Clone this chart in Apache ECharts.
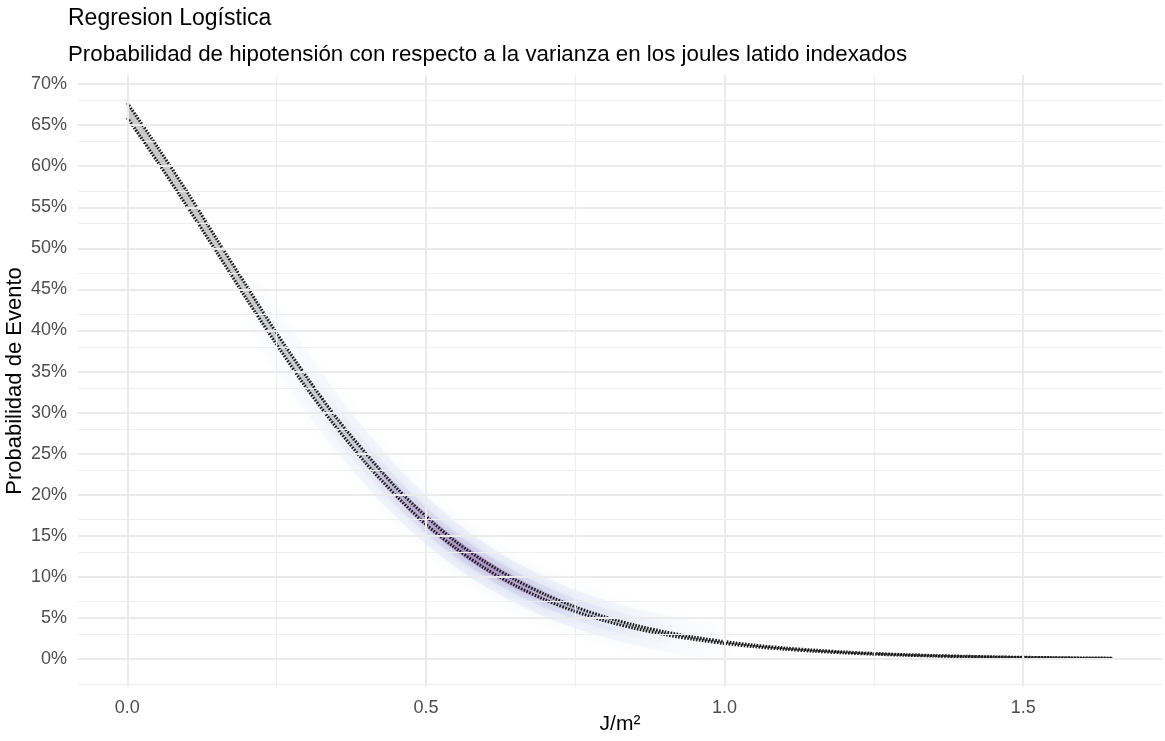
<!DOCTYPE html>
<html>
<head>
<meta charset="utf-8">
<script src="https://cdn.jsdelivr.net/npm/echarts@6/dist/echarts.min.js"></script>
<style>
  html, body { margin: 0; padding: 0; background: #fff; }
  #chart { width: 1165px; height: 741px; }
</style>
</head>
<body>
<div id="chart"></div>
<script>
// J/m2 values along the fitted curve
const xs = [0, 0.05, 0.1, 0.15, 0.2, 0.25, 0.3, 0.35, 0.4, 0.45, 0.5, 0.55, 0.6, 0.65, 0.7, 0.75, 0.8,
  0.85, 0.9, 0.95, 1.0, 1.05, 1.1, 1.15, 1.2, 1.25, 1.3, 1.35, 1.4, 1.45, 1.5, 1.55, 1.6, 1.65]
// predicted probability
const fit = [0.668, 0.615, 0.560, 0.503, 0.446, 0.390, 0.337, 0.288, 0.244, 0.204, 0.169, 0.139, 0.114,
  0.093, 0.0754, 0.0609, 0.049, 0.0394, 0.0316, 0.0253, 0.0202, 0.0161, 0.0129, 0.0103, 0.0082, 0.0065,
  0.0052, 0.0041, 0.0033, 0.0026, 0.0021, 0.0017, 0.0013, 0.0011]
const upper = [0.677, 0.624, 0.569, 0.511, 0.454, 0.397, 0.344, 0.294, 0.250, 0.209, 0.174, 0.143, 0.118,
  0.0966, 0.0786, 0.0637, 0.0514, 0.0414, 0.0333, 0.0267, 0.0214, 0.0171, 0.0137, 0.011, 0.0088, 0.007,
  0.0056, 0.0044, 0.0036, 0.0028, 0.0023, 0.0018, 0.0014, 0.0012]
const lower = [0.659, 0.606, 0.551, 0.495, 0.438, 0.383, 0.330, 0.282, 0.238, 0.199, 0.164, 0.135, 0.110,
  0.0894, 0.0722, 0.0581, 0.0466, 0.0374, 0.0299, 0.0239, 0.019, 0.0151, 0.0121, 0.0096, 0.0076, 0.006,
  0.0048, 0.0038, 0.003, 0.0024, 0.0019, 0.0016, 0.0012, 0.001]

const xMajor = [0, 0.5, 1.0, 1.5]
const xMinor = [0.25, 0.75, 1.25]
const yMajor = [0, 0.05, 0.1, 0.15, 0.2, 0.25, 0.3, 0.35, 0.4, 0.45, 0.5, 0.55, 0.6, 0.65, 0.7]
const yMinor = [-0.025, 0.025, 0.075, 0.125, 0.175, 0.225, 0.275, 0.325, 0.375, 0.425, 0.475, 0.525,
  0.575, 0.625, 0.675]

const font = 'Liberation Sans, Arial, sans-serif'
const pairs = (ys) => xs.map((x, i) => [x, ys[i]])
const glowPart = (from, to) => pairs(fit).filter(p => p[0] >= from - 1e-9 && p[0] <= to + 1e-9)

const fade = (r, g, b, a) => ({
  type: 'linear', x: 0, y: 0, x2: 1, y2: 0,
  colorStops: [
    { offset: 0, color: `rgba(${r},${g},${b},0)` },
    { offset: 0.45, color: `rgba(${r},${g},${b},${a})` },
    { offset: 0.6, color: `rgba(${r},${g},${b},${a})` },
    { offset: 1, color: `rgba(${r},${g},${b},0)` }
  ]
})

const gridLines = [
  ...xMajor.map(v => ({ xAxis: v, lineStyle: { color: '#ebebeb', width: 2, type: 'solid' } })),
  ...xMinor.map(v => ({ xAxis: v, lineStyle: { color: '#efefef', width: 1.2, type: 'solid' } })),
  ...yMajor.map(v => ({ yAxis: v, lineStyle: { color: '#ebebeb', width: 2, type: 'solid' } })),
  ...yMinor.map(v => ({ yAxis: v, lineStyle: { color: '#efefef', width: 1.2, type: 'solid' } }))
]

const chart = echarts.init(document.getElementById('chart'))
chart.setOption({
  animation: false,
  backgroundColor: '#fff',
  textStyle: { fontFamily: font },
  title: {
    text: 'Regresion Logística',
    subtext: 'Probabilidad de hipotensión con respecto a la varianza en los joules latido indexados',
    left: 63,
    top: 2,
    itemGap: 14,
    textStyle: { fontSize: 23, fontWeight: 'normal', color: '#000', fontFamily: font },
    subtextStyle: { fontSize: 22.3, color: '#000', fontFamily: font }
  },
  grid: { left: 78, right: 3, top: 75, bottom: 54, outerBoundsMode: 'none', containLabel: false },
  xAxis: {
    type: 'value',
    min: -0.0825,
    max: 1.7325,
    name: 'J/m²',
    nameLocation: 'middle',
    nameGap: 27,
    nameMoveOverlap: false,
    nameTextStyle: { fontSize: 21, color: '#000', fontFamily: font },
    axisLine: { show: false },
    axisTick: { show: false },
    splitLine: { show: false },
    axisLabel: {
      customValues: xMajor,
      margin: 12,
      fontSize: 18,
      color: '#4d4d4d',
      formatter: v => v.toFixed(1)
    }
  },
  yAxis: {
    type: 'value',
    min: -0.0339,
    max: 0.711,
    name: 'Probabilidad de Evento',
    nameLocation: 'middle',
    nameGap: 52,
    nameMoveOverlap: false,
    nameTextStyle: { fontSize: 22, color: '#000', fontFamily: font },
    axisLine: { show: false },
    axisTick: { show: false },
    splitLine: { show: false },
    axisLabel: {
      customValues: yMajor,
      margin: 11,
      fontSize: 18,
      color: '#4d4d4d',
      formatter: v => Math.round(v * 100) + '%'
    }
  },
  series: [
    {
      type: 'line',
      data: [],
      silent: true,
      z: 0,
      markLine: { silent: true, symbol: 'none', label: { show: false }, data: gridLines }
    },
    {
      type: 'custom',
      z: 2,
      silent: true,
      data: xs.map((x, i) => [x, lower[i], upper[i]]),
      renderItem(params, api) {
        if (params.dataIndex !== 0) return null
        const pts = []
        xs.forEach((x, i) => pts.push(api.coord([x, upper[i]])))
        for (let i = xs.length - 1; i >= 0; i--) pts.push(api.coord([xs[i], lower[i]]))
        return { type: 'polygon', shape: { points: pts }, style: { fill: 'rgba(150,150,150,0.5)' } }
      }
    },
    {
      type: 'line', z: 3, silent: true, symbol: 'none', smooth: 0.3,
      data: glowPart(0.2, 1.0),
      lineStyle: { width: 36, cap: 'round', color: fade(205, 215, 240, 0.3),
        shadowBlur: 16, shadowColor: 'rgba(205,215,240,0.7)' }
    },
    {
      type: 'line', z: 3, silent: true, symbol: 'none', smooth: 0.3,
      data: glowPart(0.3, 0.9),
      lineStyle: { width: 20, cap: 'round', color: fade(190, 195, 230, 0.3),
        shadowBlur: 12, shadowColor: 'rgba(190,195,230,0.7)' }
    },
    {
      type: 'line', z: 3, silent: true, symbol: 'none', smooth: 0.3,
      data: glowPart(0.4, 0.75),
      lineStyle: { width: 10, cap: 'round', color: fade(155, 110, 180, 0.45),
        shadowBlur: 10, shadowColor: 'rgba(155,110,180,0.7)' }
    },
    {
      type: 'line', z: 4, silent: true, symbol: 'none', smooth: 0.3,
      data: pairs(upper),
      lineStyle: { color: '#1a1a1a', width: 3, type: [1.6, 1.4] }
    },
    {
      type: 'line', z: 4, silent: true, symbol: 'none', smooth: 0.3,
      data: pairs(lower),
      lineStyle: { color: '#1a1a1a', width: 3, type: [1.6, 1.4] }
    }
  ]
})
</script>
</body>
</html>
